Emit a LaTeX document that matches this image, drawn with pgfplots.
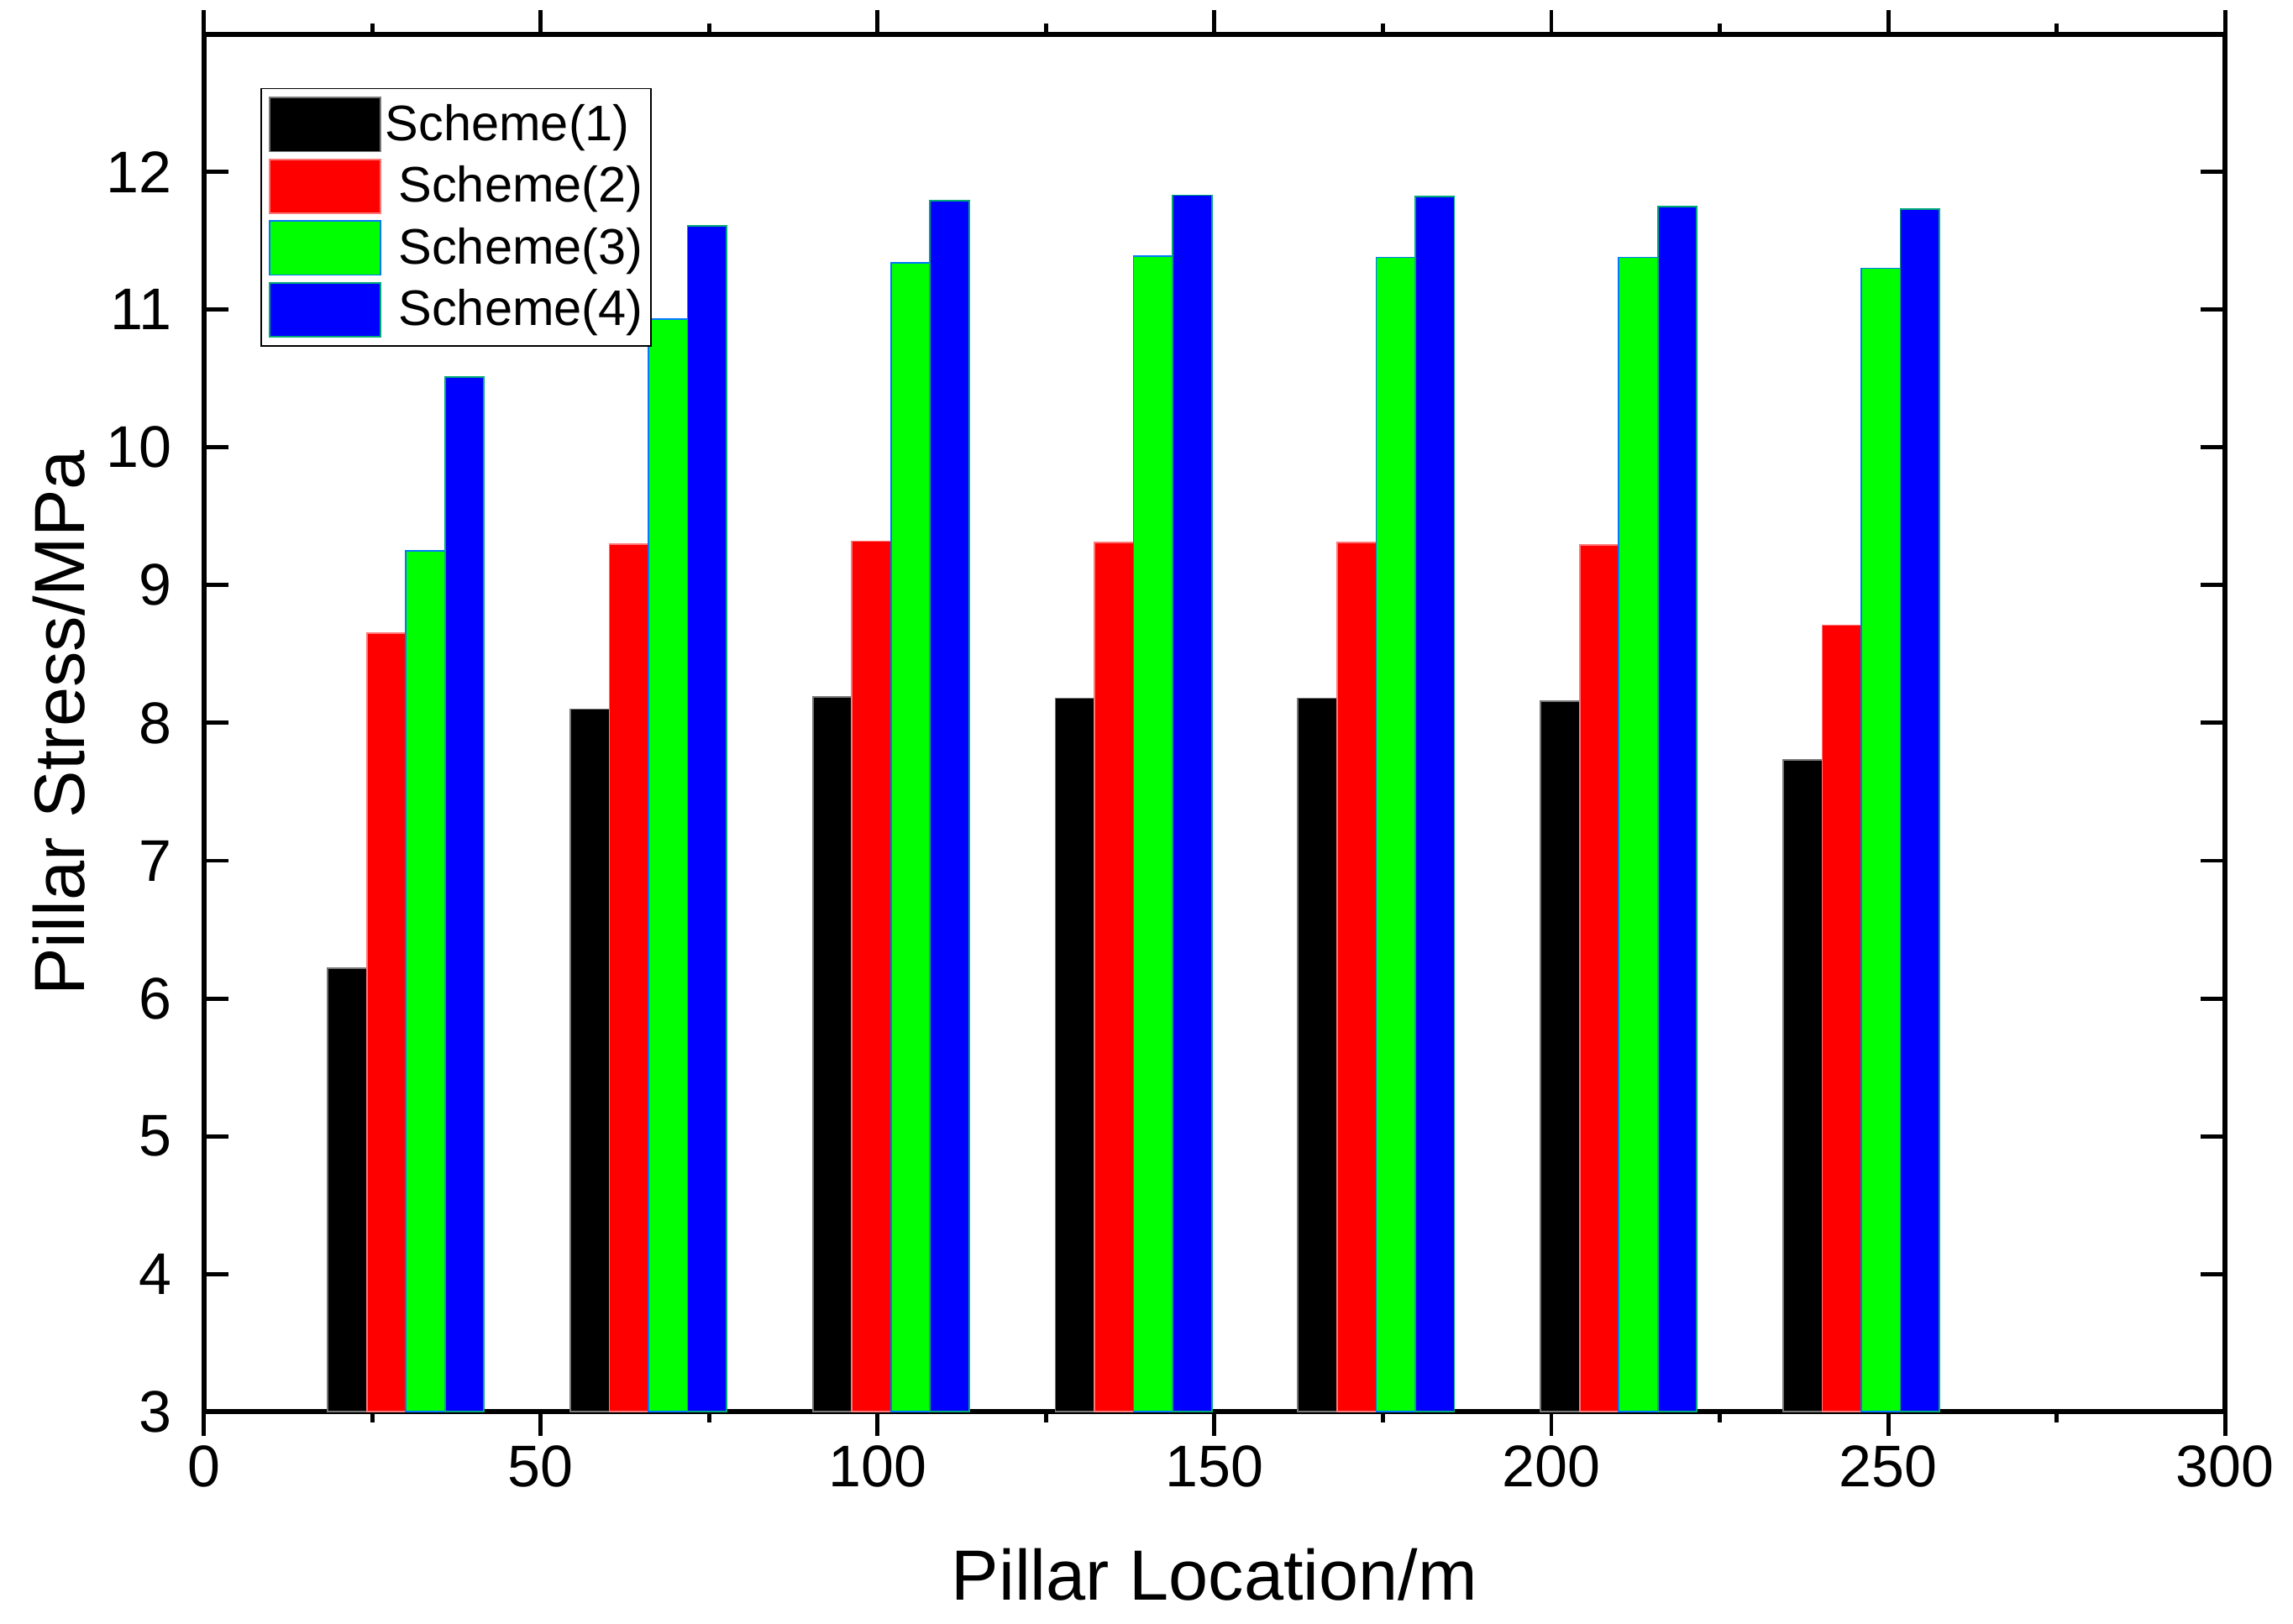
\documentclass[border=0pt]{standalone}
\usepackage{pgfplots}
\pgfplotsset{compat=1.18}
\usetikzlibrary{calc}
\usepackage{fontspec}
\setmainfont{Liberation Sans}

\definecolor{pred}{RGB}{255,0,0}
\definecolor{pgreen}{RGB}{0,255,0}
\definecolor{pblue}{RGB}{0,0,255}
\definecolor{kedge}{RGB}{120,120,120}
\definecolor{redge}{RGB}{255,120,120}
\definecolor{gedge}{RGB}{0,120,255}
\definecolor{bedge}{RGB}{0,170,120}

\begin{document}
\begin{tikzpicture}
\begin{axis}[
    name=ax,
    width=687.5pt, height=468.7pt, scale only axis,
    xmin=0, xmax=300, ymin=3, ymax=13,
    xtick={0,50,...,300}, minor x tick num=1,
    ytick={3,4,...,12},
    tick align=inside,
    major tick length=8.3pt, minor tick length=3.6pt,
    tick style={black, line width=1.4pt},
    axis line style={line width=1.7pt},
    /pgf/number format/assume math mode=true,
    ticklabel style={font=\fontsize{20}{20}\selectfont},
    xticklabel style={inner sep=0pt, yshift=-3pt},
    yticklabel style={inner sep=0pt, xshift=-10.8pt},
    every axis x label/.style={at={($(rel axis cs:0.5,0)+(0,-64pt)$)}, anchor=base,
        font=\fontsize{24.2}{24.2}\selectfont},
    every axis y label/.style={at={($(rel axis cs:0,0.5)+(-40.5pt,0)$)}, rotate=90, anchor=base,
        font=\fontsize{24.2}{24.2}\selectfont},
    xlabel={Pillar Location/m},
    ylabel={Pillar Stress/MPa},
    ybar=0pt, bar width=13.29pt,
    legend image code/.code={\draw[#1] (0pt,-9.15pt) rectangle (37.85pt,9.15pt);},
    legend cell align=left,
    legend style={at={(rel axis cs:0.028,0.961)}, anchor=north west,
        draw=black, line width=0.5pt, inner xsep=2.6pt, inner ysep=2.85pt,
        row sep=2.2pt, column sep=0pt, nodes={inner sep=0pt},
        font=\fontsize{17}{17}\selectfont},
]
% Scheme(1)
\addplot[fill=black, draw=kedge, line width=0.5pt] coordinates {
    (30,6.22) (66,8.10) (102,8.19) (138,8.18) (174,8.18) (210,8.16) (246,7.73)};
% Scheme(2)
\addplot[fill=pred, draw=redge, line width=0.5pt] coordinates {
    (30,8.65) (66,9.30) (102,9.32) (138,9.31) (174,9.31) (210,9.29) (246,8.71)};
% Scheme(3)
\addplot[fill=pgreen, draw=gedge, line width=0.5pt] coordinates {
    (30,9.25) (66,10.93) (102,11.34) (138,11.39) (174,11.38) (210,11.38) (246,11.30)};
% Scheme(4)
\addplot[fill=pblue, draw=bedge, line width=0.5pt] coordinates {
    (30,10.51) (66,11.61) (102,11.79) (138,11.83) (174,11.82) (210,11.75) (246,11.73)};
\legend{\hspace{1.3pt}Scheme(1), \hspace{5.8pt}Scheme(2), \hspace{5.8pt}Scheme(3), \hspace{5.8pt}Scheme(4)}
\end{axis}
\pgfresetboundingbox
\path[use as bounding box] ($(ax.south west)+(-69.3pt,-72pt)$) rectangle ($(ax.north east)+(23.1pt,11.6pt)$);
\end{tikzpicture}
\end{document}
